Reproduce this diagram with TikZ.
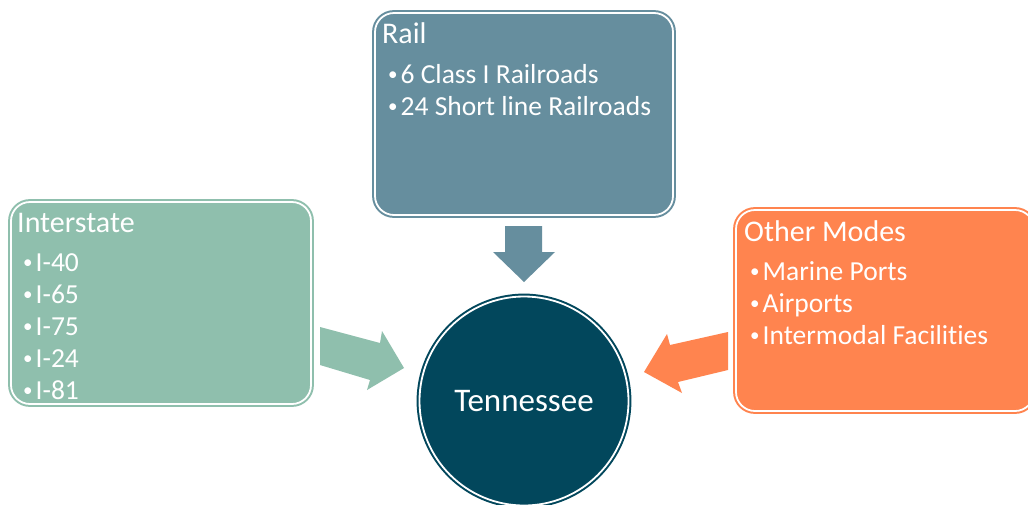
\documentclass[tikz,border=0pt]{standalone}
\usepackage{fontspec}
\setmainfont{Carlito}[Ligatures=NoCommon]
\definecolor{railc}{HTML}{668E9E}
\definecolor{interc}{HTML}{8FBFAD}
\definecolor{otherc}{HTML}{FF844F}
\definecolor{tnc}{HTML}{02475C}
\tikzset{
  panel/.style={draw=#1, fill=#1, double=white, double distance=1.8pt, line width=2pt, rounded corners=19pt, inner sep=0pt},
  hub/.style={circle, draw=#1, fill=#1, double=white, double distance=1.8pt, line width=2pt, inner sep=0pt},
  ttl/.style={anchor=base west, inner sep=0pt, text=white, font=\fontsize{30}{34}\selectfont},
  items/.style={anchor=base west, inner sep=0pt, text=white, font=\fontsize{27.5}{32}\selectfont},
  blockarrow/.style={fill=#1, draw=none}
}
\newcommand{\bul}{{\fontsize{19}{19}\selectfont\raisebox{2.5pt}{\textbullet}}\hspace{3pt}}
\begin{document}
\begin{tikzpicture}[x=1pt,y=-1pt]
\clip (0,0) rectangle (1028,504);
\fill[white] (0,0) rectangle (1028,504);
% panels
\node[panel=railc, minimum width=298pt, minimum height=202pt] (rail) at (524,114) {};
\node[panel=interc, minimum width=300pt, minimum height=202pt] (inter) at (161,303) {};
\node[panel=otherc, minimum width=298pt, minimum height=201pt] (other) at (885,310.5) {};
\node[hub=tnc, minimum size=209pt] (tn) at (524,401) {};
% texts
\node[ttl] (railT) at (382,43) {Rail};
\node[items] (railL) at (388,83) {\begin{tabular}[t]{@{}l@{}}\bul 6 Class I Railroads\\ \bul 24 Short line Railroads\end{tabular}};
\node[ttl] (interT) at (17,232) {Interstate};
\node[items] (interL) at (23,271) {\begin{tabular}[t]{@{}l@{}}\bul I-40\\ \bul I-65\\ \bul I-75\\ \bul I-24\\ \bul I-81\end{tabular}};
\node[ttl] (otherT) at (744,241) {Other Modes};
\node[items] (otherL) at (750,280) {\begin{tabular}[t]{@{}l@{}}\bul Marine Ports\\ \bul Airports\\ \bul Intermodal Facilities\end{tabular}};
\node[text=white, inner sep=0pt, font=\fontsize{33}{38}\selectfont] (tnT) at (tn.center) {Tennessee};
% block arrows
\fill[blockarrow=railc] (505,226) -- (542,226) -- (542,252) -- (555,252) -- (524,282) -- (493,252) -- (505,252) -- cycle;
\fill[blockarrow=interc] (320,327) -- (380,343) -- (382,331) -- (404,368) -- (367,390) -- (370,380) -- (320,365) -- cycle;
\fill[blockarrow=otherc] (728,332) -- (670,345) -- (667,334) -- (644,372) -- (682,393) -- (678,382) -- (728,370) -- cycle;
\end{tikzpicture}
\end{document}
